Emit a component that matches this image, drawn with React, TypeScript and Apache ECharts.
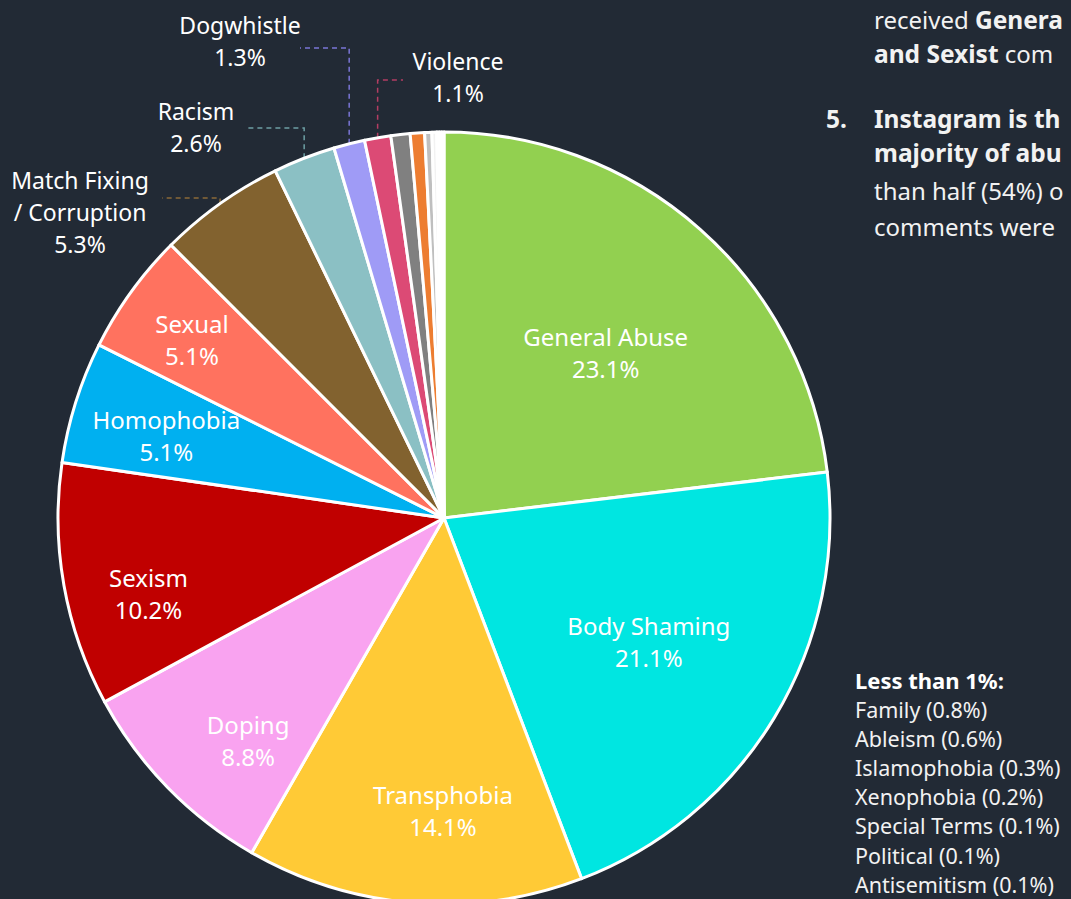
import React, { useEffect, useRef } from 'react';
import * as echarts from 'echarts';

const categories = ['General Abuse', 'Body Shaming', 'Transphobia', 'Doping', 'Sexism', 'Homophobia', 'Sexual', 'Match Fixing / Corruption', 'Racism', 'Dogwhistle', 'Violence', 'Family', 'Ableism', 'Islamophobia', 'Xenophobia', 'Special Terms', 'Political', 'Antisemitism'];
const shares = [23.1, 21.1, 14.1, 8.8, 10.2, 5.1, 5.1, 5.3, 2.6, 1.3, 1.1, 0.8, 0.6, 0.3, 0.2, 0.1, 0.1, 0.1];
const labelNames = ['General Abuse', 'Body Shaming', 'Transphobia', 'Doping', 'Sexism', 'Homophobia', 'Sexual', 'Match Fixing\n/ Corruption', 'Racism', 'Dogwhistle', 'Violence'];

const colors = ['#92d050', '#00e6e1', '#ffca36', '#f9a3f0', '#c00000', '#00b0f0', '#ff725f', '#82622f', '#8bc0c4', '#9f9bf6', '#dc4a75', '#808080', '#ed7d31', '#bfbfbf', '#f2f2f2', '#ffff00', '#a5a5a5', '#ffffff'];
const lineColors: Record<number, string> = { 7: '#8a6a38', 8: '#6d9fa4', 9: '#7a75d6', 10: '#b33d63' };

// style: inside label radius ratios and angle nudges (degrees), outside label placements
const inRatio = [0.6, 0.62, 0.757, 0.767, 0.79, 0.75, 0.8];
const inNudge = [2.7, 0, -4.3, -4.3, -4.2, -1, -0.5];
const outLabels: Record<number, { x: number; y: number; elbowY: number; endX: number }> = {
  7: { x: 80, y: 212, elbowY: 198, endX: 162 },
  8: { x: 196, y: 127, elbowY: 128, endX: 247 },
  9: { x: 240, y: 41, elbowY: 48, endX: 300 },
  10: { x: 458, y: 77, elbowY: 80, endX: 403 },
};

const CX = 444;
const CY = 518;
const R = 386;
const W = 1071;
const FONT = "'Noto Sans', 'Open Sans', sans-serif";
const BG = '#222a35';

export default function App() {
  const ref = useRef<HTMLDivElement>(null);
  useEffect(() => {
    if (!ref.current) return;
    const chart = echarts.init(ref.current, undefined, { renderer: 'svg' });
    const total = shares.reduce((a, b) => a + b, 0);
    const cum: number[] = [];
    let acc = 0;
    shares.forEach((v) => { cum.push(acc); acc += v; });
    const midAngle = (i: number) => ((cum[i] + shares[i] / 2) / total) * Math.PI * 2;

    const data = categories.map((name, i) => {
      const inside = i < inRatio.length;
      const outside = !!outLabels[i];
      return {
        name,
        value: shares[i],
        itemStyle: { color: colors[i] },
        label: {
          show: inside || outside,
          position: inside ? 'inside' : 'outside',
          formatter: () => `${labelNames[i]}\n${shares[i].toFixed(1)}%`,
          color: '#ffffff',
          fontSize: inside ? 24 : 23,
          lineHeight: 32,
          fontFamily: FONT,
          align: 'center',
        },
        labelLine: {
          show: outside,
          lineStyle: { color: lineColors[i] || colors[i], type: [5, 4], width: 1.5 },
        },
      };
    });

    const legendLines = categories
      .map((c, i) => ({ c, v: shares[i] }))
      .filter((d) => d.v < 1)
      .map((d) => `${d.c} (${d.v.toFixed(1)}%)`);

    const graphic: any[] = [];
    const para = [
      { x: 874, y: 19, text: 'received {b|General Abuse}' },
      { x: 874, y: 53, text: '{b|and Sexist} comments.' },
      { x: 826, y: 118, text: '{b|5.}' },
      { x: 874, y: 118, text: '{b|Instagram is the platform}' },
      { x: 874, y: 152, text: '{b|majority of abuse.}' },
      { x: 874, y: 190, text: 'than half (54%) of' },
      { x: 874, y: 226, text: 'comments were' },
    ];
    para.forEach((p) => {
      graphic.push({
        type: 'text',
        x: p.x,
        y: p.y,
        style: {
          text: p.text,
          fill: '#f2f2f2',
          fontSize: 24,
          fontFamily: FONT,
          verticalAlign: 'middle',
          width: W - p.x,
          overflow: 'truncate',
          ellipsis: '',
          rich: { b: { fontWeight: 'bold', fontSize: 24.5, fontFamily: FONT, fill: '#f2f2f2' } },
        },
      });
    });
    graphic.push({
      type: 'text',
      x: 855,
      y: 680,
      style: { text: 'Less than 1%:', fill: '#ffffff', fontSize: 22, fontWeight: 'bold', fontFamily: FONT, verticalAlign: 'middle' },
    });
    legendLines.forEach((t, k) => {
      graphic.push({
        type: 'text',
        x: 855,
        y: 709 + k * 29.2,
        style: { text: t, fill: '#f2f2f2', fontSize: 21.5, fontFamily: FONT, verticalAlign: 'middle', width: W - 855, overflow: 'truncate', ellipsis: '' },
      });
    });

    chart.setOption({
      animation: false,
      backgroundColor: BG,
      graphic,
      series: [
        {
          type: 'pie',
          center: [CX, CY],
          radius: [0, R],
          startAngle: 90,
          clockwise: true,
          avoidLabelOverlap: false,
          itemStyle: { borderColor: '#ffffff', borderWidth: 3 },
          data,
          labelLayout: (params: any) => {
            const i = params.dataIndex;
            const a = midAngle(i);
            if (i < inRatio.length) {
              const r = R * inRatio[i];
              const b = a + (inNudge[i] * Math.PI) / 180;
              return { x: CX + r * Math.sin(b), y: CY - r * Math.cos(b), align: 'center', verticalAlign: 'middle' };
            }
            const o = outLabels[i];
            if (o) {
              const sx = CX + R * Math.sin(a);
              const sy = CY - R * Math.cos(a);
              return {
                x: o.x,
                y: o.y,
                align: 'center',
                verticalAlign: 'middle',
                labelLinePoints: [[sx, sy], [sx, o.elbowY], [o.endX, o.elbowY]],
              };
            }
            return {};
          },
        },
      ],
    });
    return () => chart.dispose();
  }, []);
  return <div ref={ref} style={{ position: 'fixed', left: 0, top: 0, width: W, height: 899, background: BG }} />;
}
